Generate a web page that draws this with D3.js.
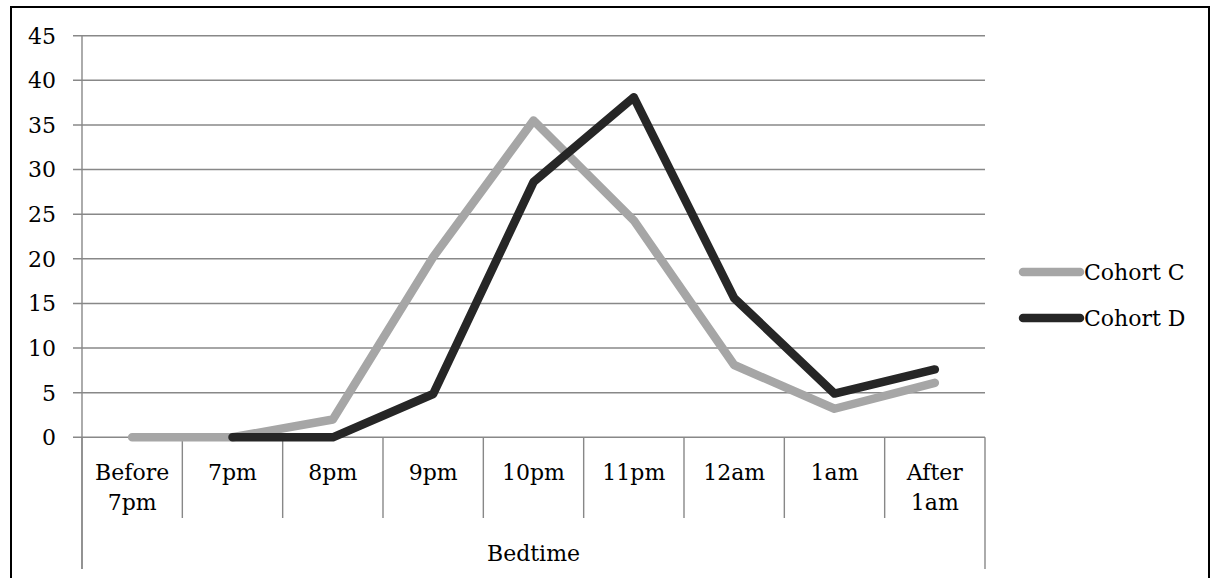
<!DOCTYPE html>
<html>
<head>
<meta charset="utf-8">
<script src="https://cdn.jsdelivr.net/npm/d3@7"></script>
<style>
  body { margin: 0; background: #fff; }
  svg { display: block; font-family: "DejaVu Serif", serif; }
</style>
</head>
<body>
<svg id="chart"></svg>
<script>
// bedtime categories (two-word labels wrap onto two lines)
const categories = ["Before 7pm", "7pm", "8pm", "9pm", "10pm", "11pm", "12am", "1am", "After 1am"];
const cohortC = [0, 0, 2, 20.2, 35.5, 24.3, 8.1, 3.2, 6.1];
const cohortD = [null, 0, 0, 4.85, 28.6, 38.1, 15.6, 4.9, 7.6];
const seriesNames = ["Cohort C", "Cohort D"];
const yTicks = [0, 5, 10, 15, 20, 25, 30, 35, 40, 45];
const axisTitle = "Bedtime";

const width = 1212, height = 578;
const colors = ["#a6a6a6", "#262626"];
const gridColor = "#888";

const svg = d3.select("#chart")
  .attr("width", width)
  .attr("height", height);

// outer frame
svg.append("rect")
  .attr("x", 11).attr("y", 7)
  .attr("width", 1198).attr("height", 600)
  .attr("fill", "none")
  .attr("stroke", "#000")
  .attr("stroke-width", 2);

const x = d3.scaleBand()
  .domain(categories)
  .range([82, 985]);

const y = d3.scaleLinear()
  .domain([0, 45])
  .range([437.3, 35.7]);

// horizontal gridlines + y labels
const yAxis = svg.append("g");
yAxis.selectAll("line")
  .data(yTicks)
  .join("line")
  .attr("x1", 73)
  .attr("x2", x.range()[1])
  .attr("y1", d => y(d))
  .attr("y2", d => y(d))
  .attr("stroke", gridColor)
  .attr("stroke-width", 1.4);
yAxis.selectAll("text")
  .data(yTicks)
  .join("text")
  .attr("x", 56)
  .attr("y", d => y(d))
  .attr("dy", "0.36em")
  .attr("text-anchor", "end")
  .attr("font-size", 22)
  .attr("fill", "#000")
  .text(d => d);

// vertical axis line
svg.append("line")
  .attr("x1", 82).attr("x2", 82)
  .attr("y1", y(45)).attr("y2", 569)
  .attr("stroke", gridColor)
  .attr("stroke-width", 1.4);

// category separators
const bounds = categories.map(d => x(d)).concat([x.range()[1]]);
svg.append("g")
  .selectAll("line")
  .data(bounds)
  .join("line")
  .attr("x1", d => d).attr("x2", d => d)
  .attr("y1", y(0))
  .attr("y2", (d, i) => (i === 0 || i === bounds.length - 1) ? 569 : 518)
  .attr("stroke", gridColor)
  .attr("stroke-width", 1.4);

// category labels
svg.append("g")
  .selectAll("text")
  .data(categories)
  .join("text")
  .attr("text-anchor", "middle")
  .attr("font-size", 22)
  .attr("fill", "#000")
  .attr("transform", d => `translate(${x(d) + x.bandwidth() / 2},${y(0) + 43})`)
  .each(function(d) {
    const words = d.split(" ");
    d3.select(this).selectAll("tspan")
      .data(words)
      .join("tspan")
      .attr("x", 0)
      .attr("dy", (w, i) => i === 0 ? 0 : 30)
      .text(w => w);
  });

svg.append("text")
  .attr("x", (x.range()[0] + x.range()[1]) / 2)
  .attr("y", 561)
  .attr("text-anchor", "middle")
  .attr("font-size", 22)
  .attr("fill", "#000")
  .text(axisTitle);

// lines
const line = d3.line()
  .defined(d => d.v != null)
  .x(d => x(d.c) + x.bandwidth() / 2)
  .y(d => y(d.v));

[cohortC, cohortD].forEach((vals, i) => {
  svg.append("path")
    .datum(categories.map((c, j) => ({ c, v: vals[j] })))
    .attr("d", line)
    .attr("fill", "none")
    .attr("stroke", colors[i])
    .attr("stroke-width", 8.5)
    .attr("stroke-linejoin", "round")
    .attr("stroke-linecap", "round");
});

// legend
const legend = svg.append("g")
  .selectAll("g")
  .data(seriesNames)
  .join("g")
  .attr("transform", (d, i) => `translate(1023,${272 + i * 46})`);
legend.append("line")
  .attr("x1", 0).attr("x2", 57)
  .attr("stroke", (d, i) => colors[i])
  .attr("stroke-width", 8.5)
  .attr("stroke-linecap", "round");
legend.append("text")
  .attr("x", 61)
  .attr("dy", "0.36em")
  .attr("font-size", 22)
  .attr("fill", "#000")
  .text(d => d);
</script>
</body>
</html>
